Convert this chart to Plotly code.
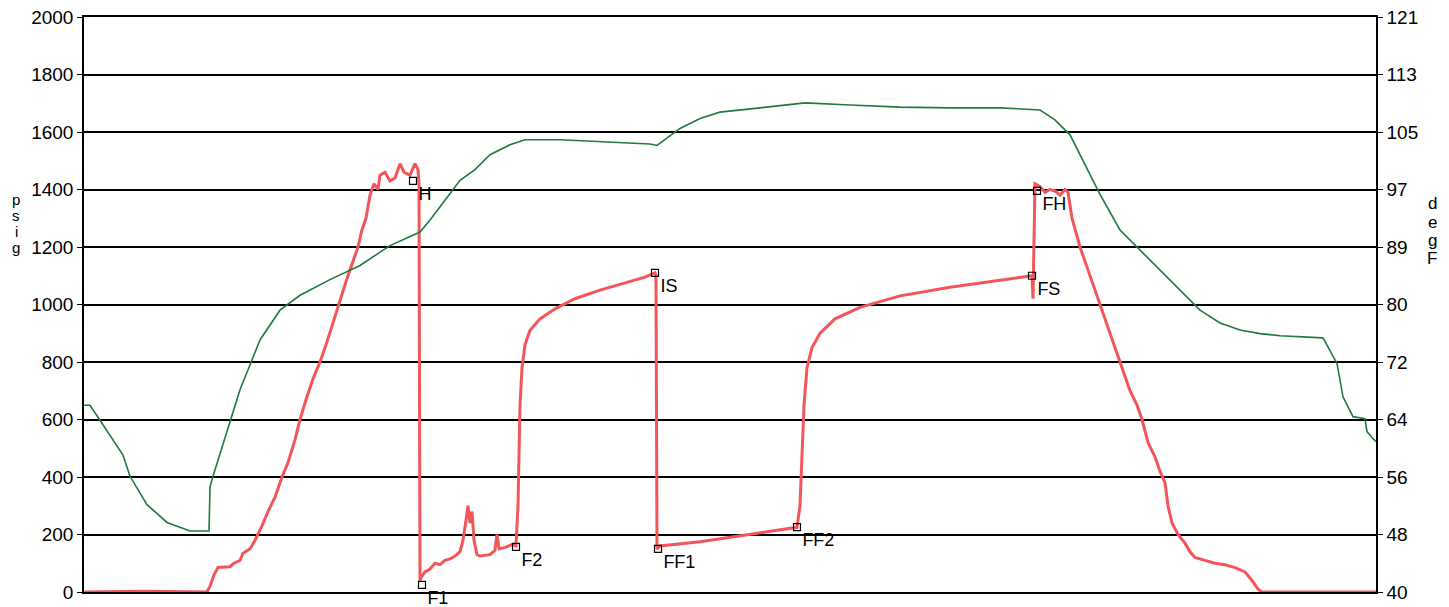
import plotly.graph_objects as go

# pressure gauge trace (elapsed time units, psig)
p_time = [0, 60, 123, 126, 130, 134, 146, 150, 156, 159, 166, 171, 178, 184, 191, 198, 204, 211,
          216, 223, 230, 236, 243, 250, 256, 262, 268, 274, 278, 282, 286, 290, 294, 296, 301, 306,
          311, 316, 320, 326, 331, 334, 335, 336,
          337, 341, 346, 351, 356, 361, 366, 371, 376, 379, 382, 384, 386, 388, 390, 393, 396, 406,
          411, 413, 415, 421, 428, 432, 434, 435, 436, 438, 441, 446, 456, 471, 491, 516, 541, 561,
          571, 572, 573,
          576, 616, 666, 713, 716, 718, 720, 723, 728, 736, 751, 776, 816, 866, 916, 946, 948, 949,
          950, 951, 956, 961, 966, 971, 976, 981, 984, 988, 992, 996, 1001, 1006, 1011, 1016, 1021,
          1026, 1031, 1036, 1041, 1046, 1053, 1058, 1064, 1071, 1076, 1081, 1084, 1088, 1094, 1101,
          1106, 1111, 1121, 1131, 1141, 1151, 1161, 1168, 1174, 1178, 1292]
p_psig = [0, 3, 0, 20, 60, 85, 88, 100, 110, 135, 150, 180, 230, 280, 330, 400, 450, 530,
          600, 680, 750, 800, 870, 950, 1010, 1080, 1140, 1200, 1260, 1300, 1380, 1420, 1400, 1450, 1460, 1430,
          1440, 1490, 1460, 1450, 1490, 1470, 1420, 40,
          50, 70, 80, 100, 95, 110, 115, 125, 140, 180, 250, 300, 240, 280, 180, 130, 125, 130,
          145, 200, 150, 155, 165, 160, 300, 500, 650, 780, 860, 910, 950, 985, 1020, 1050, 1075, 1095,
          1110, 1100, 150,
          160, 175, 200, 225, 300, 500, 650, 780, 850, 900, 950, 990, 1030, 1060, 1085, 1100, 1100, 1020,
          1300, 1420, 1410, 1390, 1400, 1395, 1380, 1400, 1390, 1300, 1250, 1200, 1150, 1100, 1050, 1000, 950,
          900, 850, 800, 750, 700, 650, 600, 520, 470, 420, 380, 300, 240, 200, 170,
          140, 120, 110, 100, 95, 85, 70, 40, 10, 0, 0]

# temperature trace (degF)
t_time = [0, 6, 16, 39, 46, 63, 83, 106, 125, 126, 129, 146, 156, 176, 196, 216, 246, 276, 306,
          336, 346, 361, 376, 391, 406, 426, 441, 476, 516, 566, 573, 586, 596, 616, 636, 676, 721,
          766, 816, 866, 916, 956, 971, 986, 1001, 1016, 1036, 1056, 1076, 1096, 1116, 1136, 1156,
          1176, 1196, 1239, 1253, 1259, 1269, 1281, 1283, 1289, 1292]
t_degf = [66.3, 66.3, 64.2, 59.3, 56.3, 52.3, 49.8, 48.6, 48.6, 54.8, 56.3, 64.2, 68.5, 75.5, 79.7,
          81.8, 84.0, 86.0, 88.8, 90.7, 92.4, 95.2, 98.0, 99.5, 101.6, 103.0, 103.7, 103.7, 103.4,
          103.1, 102.9, 104.2, 105.3, 106.7, 107.6, 108.2, 108.9, 108.6, 108.3, 108.2, 108.2, 107.9,
          106.5, 104.4, 100.2, 96.0, 91.0, 88.2, 85.4, 82.5, 79.7, 77.9, 76.9, 76.4, 76.1, 75.8,
          72.2, 67.5, 64.7, 64.4, 62.6, 61.6, 61.2]

# test event markers
ev_names = ["H", "F1", "F2", "IS", "FF1", "FF2", "FS", "FH"]
ev_time = [329, 338, 432, 571, 574, 713, 948, 953]
ev_psig = [1430, 25, 157, 1110, 150, 226, 1100, 1395]

psi_ticks = [0, 200, 400, 600, 800, 1000, 1200, 1400, 1600, 1800, 2000]
degf_tickvals = [round(40 + 8.1 * k, 1) for k in range(11)]
degf_ticktext = ["40", "48", "56", "64", "72", "80", "89", "97", "105", "113", "121"]

FONT = "Liberation Sans, Arial, sans-serif"
# the page body adds an 8px margin, so the figure is a bit smaller than the window
W, H = 1441, 599
ML, MR, MT, MB = 76, 73, 9, 15
BODY = 8

fig = go.Figure()

fig.add_trace(go.Scatter(
    x=t_time, y=t_degf, mode="lines", yaxis="y2",
    line=dict(color="#1f7a3e", width=1.6), showlegend=False
))

fig.add_trace(go.Scatter(
    x=p_time, y=p_psig, mode="lines",
    line=dict(color="#f2555a", width=3), showlegend=False
))

fig.add_trace(go.Scatter(
    x=ev_time, y=ev_psig, mode="markers+text", text=ev_names, cliponaxis=False,
    textposition="bottom right", textfont=dict(family=FONT, size=18, color="black"),
    marker=dict(symbol="square-open", size=7, color="black", line=dict(width=1.2)),
    showlegend=False
))

# stacked single-letter axis titles, positioned in window pixels
def px_to_paper(px, py):
    fx, fy = px - BODY, py - BODY
    return (fx - ML) / (W - ML - MR), (H - MB - fy) / (H - MT - MB)

annots = []
for letter, py in zip("psig", [199, 215, 231, 247]):
    ax, ay = px_to_paper(16, py)
    annots.append(dict(text=letter, x=ax, y=ay, xref="paper", yref="paper", showarrow=False,
                       font=dict(size=15), xanchor="center", yanchor="middle"))
for letter, py in zip("degF", [204, 222, 240, 258]):
    ax, ay = px_to_paper(1432, py)
    annots.append(dict(text=letter, x=ax, y=ay, xref="paper", yref="paper", showarrow=False,
                       font=dict(size=17), xanchor="center", yanchor="middle"))

fig.update_layout(
    width=W, height=H,
    margin=dict(l=ML, r=MR, t=MT, b=MB, autoexpand=False),
    paper_bgcolor="white", plot_bgcolor="white",
    font=dict(family=FONT, size=19, color="black"),
    xaxis=dict(range=[0, 1292], showgrid=False, zeroline=False, showticklabels=False,
               ticks="", showline=True, mirror=True, linecolor="black", linewidth=1.5,
               automargin=False),
    yaxis=dict(range=[0, 2000], tickvals=psi_ticks, showgrid=True, gridcolor="black",
               gridwidth=1.5, zeroline=False, showline=True, linecolor="black", linewidth=1.5,
               ticks="outside", ticklen=5, tickcolor="black", automargin=False,
               ticklabeloverflow="allow"),
    yaxis2=dict(range=[40, 121], overlaying="y", side="right", tickvals=degf_tickvals,
                ticktext=degf_ticktext, showgrid=False, zeroline=False, showline=True,
                linecolor="black", linewidth=1.5, ticks="outside", ticklen=5, tickcolor="black",
                automargin=False, ticklabeloverflow="allow"),
    annotations=annots,
)

fig.write_html("out.html")
